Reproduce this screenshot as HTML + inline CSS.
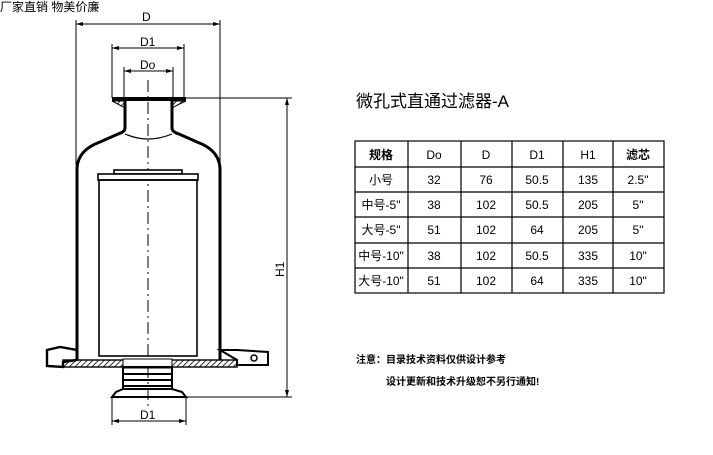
<!DOCTYPE html>
<html><head><meta charset="utf-8"><style>
body{margin:0;background:#fff;width:713px;height:455px;overflow:hidden;font-family:"Liberation Sans","Noto Sans CJK SC",sans-serif}
svg{position:absolute;left:0;top:0}
</style></head><body>
<svg width="713" height="455" viewBox="0 0 713 455" font-family="Liberation Sans, Noto Sans CJK SC, sans-serif">
<defs><pattern id="h" width="4" height="4" patternUnits="userSpaceOnUse" patternTransform="rotate(45)"><line x1="0" y1="0" x2="0" y2="4" stroke="#000" stroke-width="1.6"/></pattern></defs>
<text x="0" y="11" font-size="12" fill="#000">厂家直销 物美价廉</text>
<g stroke="#000" fill="none" stroke-width="1">
<line x1="76" y1="24" x2="220" y2="24"/><line x1="76" y1="20" x2="76" y2="165"/><line x1="220" y1="20" x2="220" y2="165"/>
<line x1="112" y1="48" x2="184" y2="48"/><line x1="112" y1="44" x2="112" y2="98"/><line x1="184" y1="44" x2="184" y2="98"/>
<line x1="124" y1="71" x2="173" y2="71"/><line x1="124" y1="67" x2="124" y2="98"/><line x1="173" y1="67" x2="173" y2="98"/>
<line x1="186" y1="98" x2="292" y2="98"/><line x1="186" y1="397" x2="292" y2="397"/><line x1="287" y1="98" x2="287" y2="397"/>
<line x1="112" y1="421" x2="186" y2="421"/><line x1="112" y1="397" x2="112" y2="425"/><line x1="186" y1="397" x2="186" y2="425"/>
<line x1="148" y1="80" x2="148" y2="410" stroke-dasharray="12,4,2,4"/>
</g>
<g fill="#000">
<polygon points="76,24 83,22 83,26"/><polygon points="220,24 213,22 213,26"/>
<polygon points="112,48 119,46 119,50"/><polygon points="184,48 177,46 177,50"/>
<polygon points="124,71 131,69 131,73"/><polygon points="173,71 166,69 166,73"/>
<polygon points="287,98 285,105 289,105"/><polygon points="287,397 285,390 289,390"/>
<polygon points="112,421 119,419 119,423"/><polygon points="186,421 179,419 179,423"/>
</g>
<g font-size="12" fill="#000">
<text x="142" y="21">D</text><text x="140" y="46">D1</text><text x="140" y="69">Do</text>
<text x="140" y="419">D1</text>
<text x="0" y="0" transform="translate(284,277) rotate(-90)">H1</text>
</g>
<g stroke="#000" fill="none" stroke-width="3">
<path d="M125,101 L125,128 Q125,132 118,134 L100,142 Q78,150 77,168 L77,360"/>
<path d="M172,101 L172,128 Q172,132 179,134 L197,142 Q219,150 220,168 L220,360"/>
</g>
<path d="M125,134 Q148,144 172,134" stroke="#000" fill="none" stroke-width="1.2"/>
<rect x="112" y="97" width="74" height="4" fill="#000"/>
<path d="M112,101 L125,101 L125,108 Q118,104 112,101Z M186,101 L172,101 L172,108 Q179,104 186,101Z" fill="url(#h)" stroke="#000"/>
<g stroke="#000" fill="#fff" stroke-width="1.6">
<rect x="114" y="170" width="68" height="4"/>
<rect x="98" y="174" width="100" height="6"/>
<rect x="99" y="180" width="98" height="176" fill="none"/>
</g>
<rect x="63" y="360" width="174" height="7" fill="url(#h)" stroke="#000" stroke-width="1.4"/>
<rect x="123" y="359" width="49" height="9" fill="#fff" stroke="#000"/>
<path d="M47,350 L60,347 L77,350 L77,360 L63,362 L63,367 L47,366 Z" fill="none" stroke="#000" stroke-width="2.4"/>
<path d="M220,350 L237,350 L268,352 L268,365 L237,365 L237,360 Z" fill="none" stroke="#000" stroke-width="2"/>
<circle cx="254" cy="358" r="3" fill="none" stroke="#000" stroke-width="1.5"/>
<g stroke="#000" fill="none" stroke-width="2">
<rect x="123" y="367" width="49" height="22"/>
<line x1="123" y1="374" x2="172" y2="374"/><line x1="123" y1="380" x2="172" y2="380"/><line x1="123" y1="386" x2="172" y2="386"/>
<path d="M123,389 L116,392 L112,397 L186,397 L182,392 L172,389"/>
</g>
<text x="356" y="107" font-size="17" fill="#000">微孔式直通过滤器-A</text>
<g stroke="#000" stroke-width="1.2" fill="none">
<rect x="355" y="141" width="309" height="152"/>
<line x1="355" y1="167" x2="664" y2="167"/><line x1="355" y1="192" x2="664" y2="192"/><line x1="355" y1="217" x2="664" y2="217"/><line x1="355" y1="243" x2="664" y2="243"/><line x1="355" y1="268" x2="664" y2="268"/>
<line x1="408" y1="141" x2="408" y2="293"/><line x1="461" y1="141" x2="461" y2="293"/><line x1="512" y1="141" x2="512" y2="293"/><line x1="563" y1="141" x2="563" y2="293"/><line x1="613" y1="141" x2="613" y2="293"/>
</g>
<g font-size="12" fill="#000" text-anchor="middle">
<text x="381" y="159" font-weight="bold">规格</text><text x="434" y="159">Do</text><text x="486" y="159">D</text><text x="537" y="159">D1</text><text x="588" y="159">H1</text><text x="638" y="159" font-weight="bold">滤芯</text>
<text x="381" y="184">小号</text><text x="434" y="184">32</text><text x="486" y="184">76</text><text x="537" y="184">50.5</text><text x="588" y="184">135</text><text x="638" y="184">2.5"</text>
<text x="381" y="209">中号-5"</text><text x="434" y="209">38</text><text x="486" y="209">102</text><text x="537" y="209">50.5</text><text x="588" y="209">205</text><text x="638" y="209">5"</text>
<text x="381" y="234">大号-5"</text><text x="434" y="234">51</text><text x="486" y="234">102</text><text x="537" y="234">64</text><text x="588" y="234">205</text><text x="638" y="234">5"</text>
<text x="381" y="260">中号-10"</text><text x="434" y="260">38</text><text x="486" y="260">102</text><text x="537" y="260">50.5</text><text x="588" y="260">335</text><text x="638" y="260">10"</text>
<text x="381" y="285">大号-10"</text><text x="434" y="285">51</text><text x="486" y="285">102</text><text x="537" y="285">64</text><text x="588" y="285">335</text><text x="638" y="285">10"</text>
</g>
<g font-size="10" fill="#000" font-weight="bold">
<text x="356" y="363">注意：目录技术资料仅供设计参考</text>
<text x="386" y="385">设计更新和技术升级恕不另行通知!</text>
</g>
</svg>
</body></html>
